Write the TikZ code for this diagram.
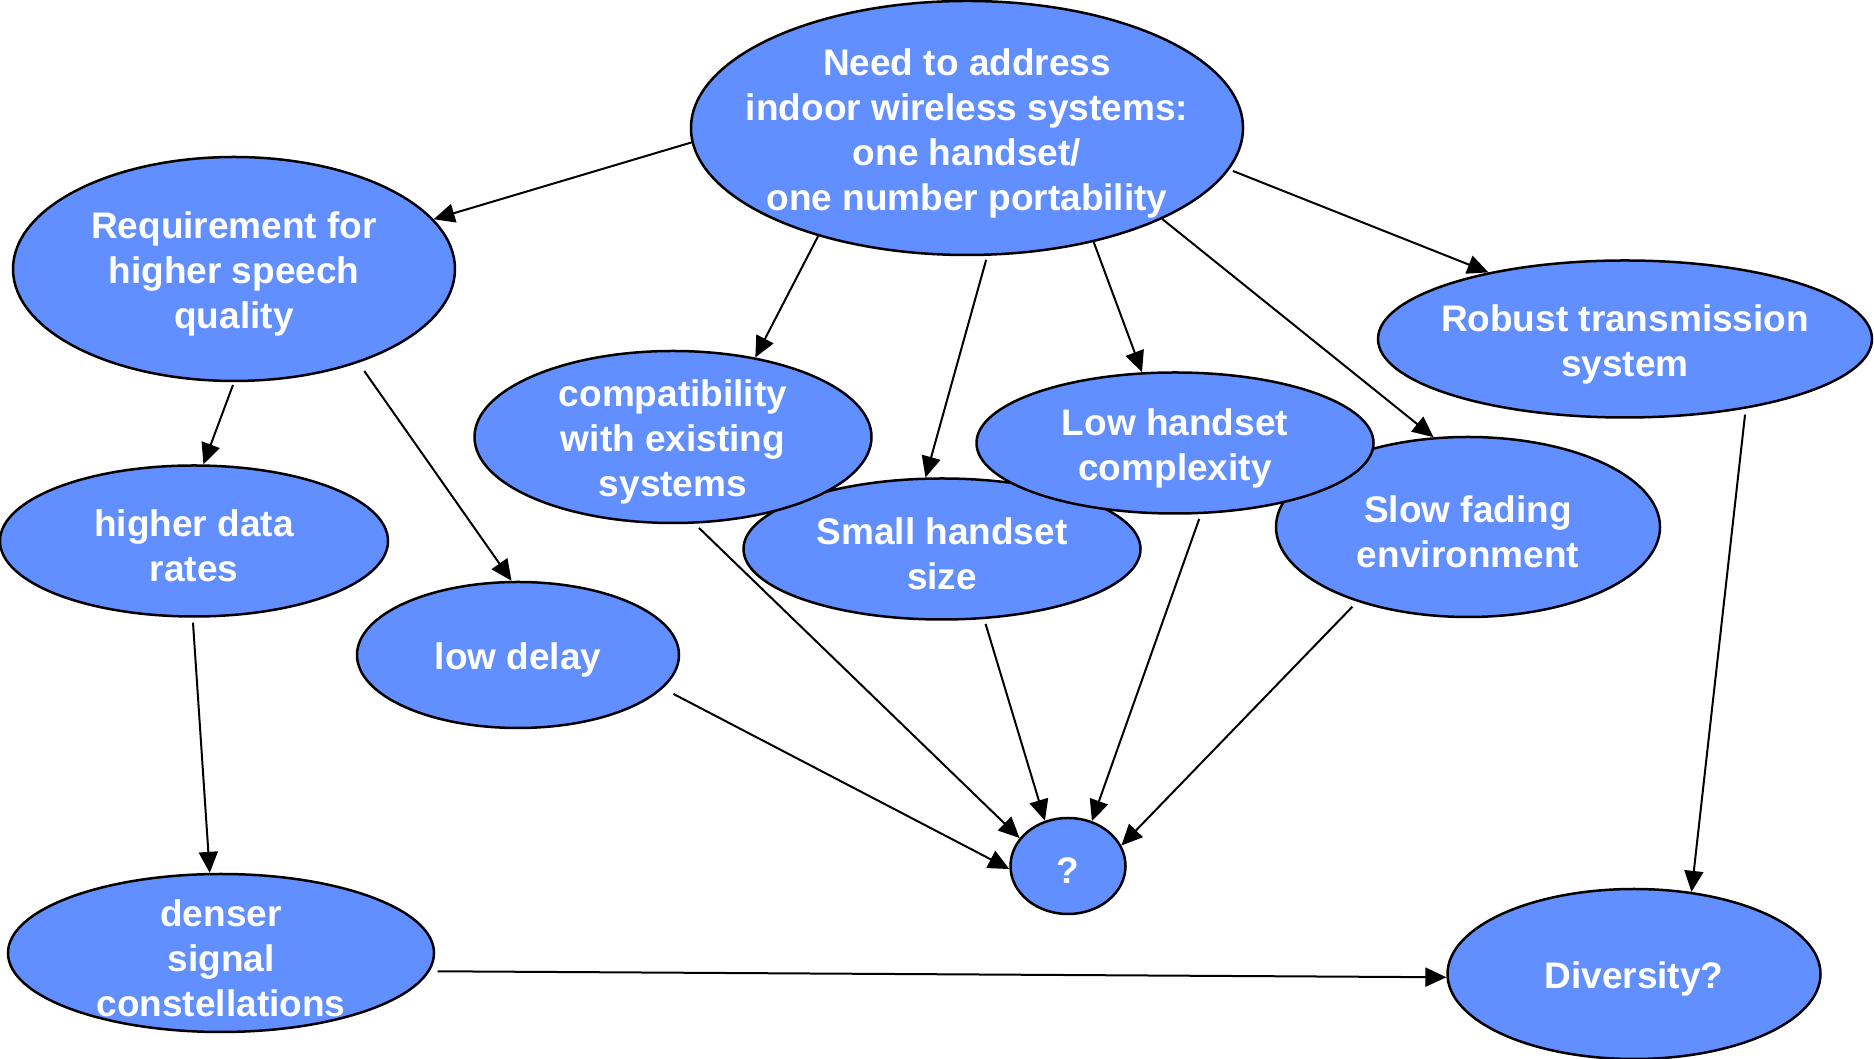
\documentclass[tikz,border=0pt]{standalone}
\usepackage{fontspec}
\setmainfont{Liberation Sans}
\usetikzlibrary{shapes.geometric,arrows.meta}
\definecolor{fillblue}{RGB}{98,143,255}
\tikzset{
  bubble/.style={ellipse, draw=black, line width=2.5pt, fill=fillblue, inner sep=0pt},
  txt/.style={text=white, align=center, inner sep=0pt, yshift=-5pt, font=\fontsize{37}{45}\selectfont\bfseries},
  conn/.style={line width=2pt, -{Triangle[length=21pt,width=19pt]}}
}
\begin{document}
\begin{tikzpicture}[x=1pt,y=1pt]
\useasboundingbox (0,0) rectangle (1874,1059);
% ellipses (drawing order matters for overlaps)
\node[bubble, minimum width=397, minimum height=141] (sm) at (942,510) {};
\node[bubble, minimum width=384, minimum height=180] (sl) at (1468,532) {};
\node[bubble, minimum width=397, minimum height=172] (cp) at (673,622) {};
\node[bubble, minimum width=397, minimum height=141] (lo) at (1175,616) {};
\node[bubble, minimum width=552, minimum height=254] (top) at (967,931) {};
\node[bubble, minimum width=442, minimum height=224] (req) at (234,790) {};
\node[bubble, minimum width=388, minimum height=151] (hd) at (194,518) {};
\node[bubble, minimum width=322, minimum height=146] (ld) at (518,404) {};
\node[bubble, minimum width=494, minimum height=157] (rb) at (1625,720) {};
\node[bubble, minimum width=115, minimum height=96] (q) at (1068,193) {};
\node[bubble, minimum width=426, minimum height=158] (dn) at (221,106) {};
\node[bubble, minimum width=373, minimum height=170] (dv) at (1634,85) {};
% texts
\node[txt] (tsm) at (sm) {Small handset\\size};
\node[txt] (tsl) at (sl) {Slow fading\\environment};
\node[txt] (tcp) at (cp) {compatibility\\with existing\\systems};
\node[txt] (tlo) at (lo) {Low handset\\complexity};
\node[txt] (ttop) at (top) {Need to address\\indoor wireless systems:\\one handset/\\one number portability};
\node[txt] (treq) at (req) {Requirement for\\higher speech\\quality};
\node[txt] (thd) at (hd) {higher data\\rates};
\node[txt] (tld) at (ld) {low delay};
\node[txt] (trb) at (rb) {Robust transmission\\system};
\node[txt] (tq) at (q) {?};
\node[txt] (tdn) at (dn) {denser\\signal\\constellations};
\node[txt] (tdv) at (dv) {Diversity?};
% connectors
\draw[conn] (top.183.5) -- (req.14);
\draw[conn] (top.216) -- (cp.44);
\draw[conn, shorten <=4pt] (top.279) -- (sm.103);
\draw[conn] (top.318) -- (lo.115);
\draw[conn] (top.335) -- (sl.111);
\draw[conn, shorten <=4pt] (top.351) -- (rb.154);
\draw[conn, shorten <=3pt] (req.270) -- (hd.83);
\draw[conn, shorten <=10pt] (req.323) -- (ld.95);
\draw[conn, shorten <=5pt] (hd.269) -- (dn.98);
\draw[conn, shorten <=12pt] (ld.347) -- (q.183);
\draw[conn, shorten <=6pt] (cp.284) -- (q.150);
\draw[conn, shorten <=5pt] (sm.301) -- (q.117);
\draw[conn, shorten <=5pt] (lo.290) -- (q.62);
\draw[conn, shorten <=7pt] (sl.214) -- (q.21);
\draw[conn, shorten <=6pt] (rb.330) -- (dv.55);
\draw[conn, shorten <=8pt] (dn.355) -- (dv.181);
\end{tikzpicture}
\end{document}
